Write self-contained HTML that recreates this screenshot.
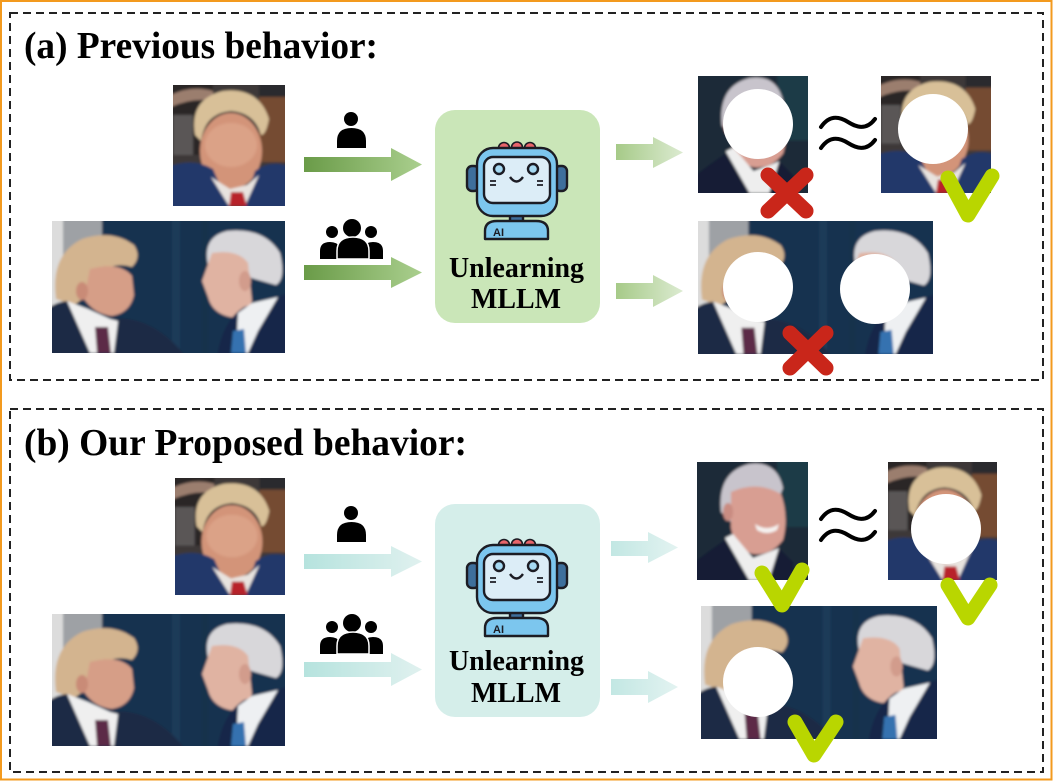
<!DOCTYPE html>
<html>
<head>
<meta charset="utf-8">
<style>
html,body{margin:0;padding:0;background:#fff;}
svg{display:block;}
</style>
</head>
<body>
<svg width="1053" height="781" viewBox="0 0 1053 781" xmlns="http://www.w3.org/2000/svg">
<defs>
  <filter id="blur" x="-10%" y="-10%" width="120%" height="120%"><feGaussianBlur stdDeviation="1.3"/></filter>
  <linearGradient id="gA1" gradientUnits="objectBoundingBox" x1="0" y1="0" x2="1" y2="0">
    <stop offset="0" stop-color="#6a9b48"/><stop offset="1" stop-color="#aacf8e"/>
  </linearGradient>
  <linearGradient id="gA2" gradientUnits="objectBoundingBox" x1="0" y1="0" x2="1" y2="0">
    <stop offset="0" stop-color="#a6ca88"/><stop offset="1" stop-color="#dcebd1"/>
  </linearGradient>
  <linearGradient id="gB1" gradientUnits="objectBoundingBox" x1="0" y1="0" x2="1" y2="0">
    <stop offset="0" stop-color="#b6e3de"/><stop offset="1" stop-color="#e0f1ef"/>
  </linearGradient>
  <linearGradient id="gB2" gradientUnits="objectBoundingBox" x1="0" y1="0" x2="1" y2="0">
    <stop offset="0" stop-color="#c2e7e3"/><stop offset="1" stop-color="#e3f3f1"/>
  </linearGradient>

  <!-- Trump single portrait -->
  <symbol id="trump" viewBox="0 0 112 121" preserveAspectRatio="none">
    <g filter="url(#blur)">
      <rect x="-5" y="-5" width="122" height="131" fill="#3d3838"/>
      <rect x="-5" y="-5" width="45" height="75" fill="#2a2728"/>
      <path d="M-2 10 Q18 0 40 6 L40 16 Q20 12 -2 22Z" fill="#9b7e6e"/>
      <rect x="86" y="12" width="30" height="65" fill="#744c31"/>
      <rect x="86" y="-5" width="30" height="17" fill="#2b2a2e"/>
      <rect x="0" y="30" width="20" height="40" fill="#5a5656"/>
      <ellipse cx="58" cy="66" rx="31" ry="38" fill="#d39479"/>
      <ellipse cx="58" cy="60" rx="26" ry="22" fill="#dba287"/>
      <path d="M22 50 Q16 14 50 6 Q86 2 96 34 Q93 50 88 50 Q82 28 58 26 Q32 28 28 56 Z" fill="#d8c098"/>
      <path d="M-5 126 L-5 82 Q20 72 40 84 L58 126 Z" fill="#22396b"/>
      <path d="M117 126 L117 82 Q98 74 82 86 L70 126 Z" fill="#22396b"/>
      <path d="M38 92 L56 121 L72 121 L86 90 L74 100 L57 104 Z" fill="#e8e3df"/>
      <path d="M58 107 L70 107 L74 121 L56 121 Z" fill="#b8242a"/>
    </g>
  </symbol>

  <!-- Trump & Biden pair -->
  <symbol id="group" viewBox="0 0 233 132" preserveAspectRatio="none">
    <g filter="url(#blur)">
      <rect x="-5" y="-5" width="243" height="142" fill="#17334f"/>
      <rect x="120" y="-5" width="8" height="142" fill="#1c3a58"/>
      <rect x="150" y="-5" width="6" height="142" fill="#14304b"/>
      <rect x="-5" y="-5" width="16" height="142" fill="#dcdcdc"/>
      <rect x="11" y="-5" width="39" height="80" fill="#9ea1a5"/>
      <!-- Trump -->
      <path d="M4 78 Q-2 34 30 18 Q60 8 82 24 Q90 36 80 46 Q60 40 46 55 Q36 76 22 84 Z" fill="#d3b48f"/>
      <path d="M38 48 Q68 40 80 55 L82 74 Q78 92 60 95 Q42 93 32 78 Z" fill="#d69e87"/>
      <ellipse cx="30" cy="70" rx="6" ry="9" fill="#c98b77"/>
      <path d="M-5 137 L-5 88 Q6 80 16 80 L40 137 Z" fill="#1b2b44"/>
      <path d="M56 98 Q100 92 135 137 L60 137 Z" fill="#1e2c45"/>
      <path d="M15 80 L36 88 L58 98 L66 100 L62 132 L38 132 Z" fill="#efefef"/>
      <path d="M43 106 L56 106 L59 132 L45 132 Z" fill="#5b2c47"/>
      <!-- Biden -->
      <path d="M156 44 Q150 16 175 10 Q212 6 228 32 Q234 58 224 64 L196 56 Z" fill="#d8d7da"/>
      <path d="M160 32 Q186 28 196 42 L200 80 Q194 98 178 96 Q160 92 156 76 L150 60 Z" fill="#e0b3a2"/>
      <ellipse cx="193" cy="60" rx="6" ry="10" fill="#d29c8c"/>
      <path d="M165 137 Q170 100 192 86 L238 72 L238 137 Z" fill="#142848"/>
      <path d="M186 92 L200 82 L226 76 L206 110 L196 132 L184 132 Z" fill="#eef0f2"/>
      <path d="M181 110 L192 108 L194 132 L179 132 Z" fill="#3472b0"/>
    </g>
  </symbol>

  <!-- Biden single portrait -->
  <symbol id="biden" viewBox="0 0 111 118" preserveAspectRatio="none">
    <g filter="url(#blur)">
      <rect x="-5" y="-5" width="121" height="128" fill="#1a2b38"/>
      <rect x="80" y="-5" width="36" height="70" fill="#1f3a46"/>
      <path d="M24 50 Q20 10 52 2 Q80 -2 86 26 L82 36 Q60 20 36 34 L34 60 Z" fill="#c8c4cc"/>
      <path d="M34 30 Q60 18 84 32 Q92 55 86 78 Q74 94 56 92 Q38 88 34 66 Z" fill="#d89e92"/>
      <ellipse cx="31" cy="50" rx="5" ry="9" fill="#c98c82"/>
      <path d="M58 62 Q70 70 82 62 L80 68 Q70 74 60 68 Z" fill="#f5f2f0"/>
      <path d="M-5 123 L-5 102 Q10 90 28 78 L52 118 Z" fill="#161e36"/>
      <path d="M70 118 L82 86 L96 100 L98 123 Z" fill="#161e36"/>
      <path d="M28 76 L36 72 L56 96 L72 90 L82 86 L72 118 L52 118 Z" fill="#eeeeee"/>
    </g>
  </symbol>

  <!-- Robot icon -->
  <g id="robot" stroke="#1c1c24" stroke-width="2.4" stroke-linejoin="round">
    <circle cx="44" cy="10" r="5.5" fill="#e8646a" stroke-width="1.6"/>
    <circle cx="57" cy="9.5" r="5.5" fill="#e8646a" stroke-width="1.6"/>
    <circle cx="70" cy="10" r="5.5" fill="#e8646a" stroke-width="1.6"/>
    <rect x="7" y="28" width="12" height="25" rx="5" fill="#3e6f9c"/>
    <rect x="95" y="28" width="12" height="25" rx="5" fill="#3e6f9c"/>
    <rect x="50" y="75" width="13" height="11" rx="3" fill="#3e6f9c"/>
    <path d="M25 101 L25 93 Q25 83 37 83 L76 83 Q88 83 88 93 L88 101 Z" fill="#7cc6ee"/>
    <rect x="17" y="10" width="80" height="68" rx="16" fill="#7cc6ee"/>
    <rect x="24" y="19" width="66" height="46" rx="9" fill="#dcedf7"/>
    <circle cx="39" cy="31" r="5" fill="#a6d9f2"/>
    <circle cx="73" cy="31" r="5" fill="#a6d9f2"/>
    <path d="M50 39 Q56.5 48 63 39" fill="none"/>
    <path d="M30 43 H36 M30 47 H36 M77 43 H83 M77 47 H83" fill="none" stroke-width="1.8"/>
    <text x="33" y="98" font-family="Liberation Sans, sans-serif" font-weight="bold" font-size="11" fill="#1c1c24" stroke="none">AI</text>
  </g>

  <!-- Person icons -->
  <g id="person" fill="#000">
    <circle cx="351" cy="119" r="7"/>
    <path d="M337 148 L337 141 Q337 128 351.5 128 Q366 128 366 141 L366 148 Z"/>
  </g>
  <g id="people" fill="#000">
    <circle cx="332" cy="232" r="6"/>
    <circle cx="371" cy="232" r="6"/>
    <path d="M320 259 L320 251 Q320 242 330 242 Q337 242 340 247 L340 259 Z"/>
    <path d="M383 259 L383 251 Q383 242 373 242 Q366 242 363 247 L363 259 Z"/>
    <circle cx="352" cy="228" r="9"/>
    <path d="M337 259 L337 251 Q337 237 353 237 Q369 237 369 251 L369 259 Z" stroke="#fff" stroke-width="1.5"/>
  </g>
</defs>

<!-- orange outer frame -->
<rect x="1" y="1" width="1050.5" height="778.5" fill="none" stroke="#f39a1e" stroke-width="2"/>

<!-- dashed panels -->
<rect x="10" y="13" width="1033" height="367" fill="none" stroke="#222" stroke-width="2" stroke-dasharray="8 5"/>
<rect x="10" y="409" width="1033" height="363" fill="none" stroke="#222" stroke-width="2" stroke-dasharray="8 5"/>

<!-- titles -->
<text x="24" y="58" font-family="Liberation Serif, serif" font-weight="bold" font-size="38" textLength="354" lengthAdjust="spacingAndGlyphs" fill="#000">(a) Previous behavior:</text>
<text x="24" y="455" font-family="Liberation Serif, serif" font-weight="bold" font-size="38" textLength="443" lengthAdjust="spacingAndGlyphs" fill="#000">(b) Our Proposed behavior:</text>

<!-- ================= PANEL A ================= -->
<use href="#trump" x="173" y="85" width="112" height="121"/>
<use href="#group" x="52" y="221" width="233" height="132"/>

<use href="#person"/>
<use href="#people"/>

<path d="M304 157 L391 157 L391 148 L422 164.5 L391 181 L391 172 L304 172 Z" fill="url(#gA1)"/>
<path d="M304 265 L391 265 L391 257 L422 272.5 L391 288 L391 280 L304 280 Z" fill="url(#gA1)"/>

<rect x="435" y="110" width="165" height="213" rx="20" fill="#cae6b8"/>
<use href="#robot" x="460" y="138"/>
<text x="449" y="277" font-family="Liberation Serif, serif" font-weight="bold" font-size="29" textLength="135" lengthAdjust="spacingAndGlyphs" fill="#000">Unlearning</text>
<text x="471" y="308" font-family="Liberation Serif, serif" font-weight="bold" font-size="29" textLength="90" lengthAdjust="spacingAndGlyphs" fill="#000">MLLM</text>

<path d="M616 144 L653 144 L653 137 L683 152.5 L653 168 L653 160 L616 160 Z" fill="url(#gA2)"/>
<path d="M616 283 L653 283 L653 275 L683 291 L653 307 L653 299 L616 299 Z" fill="url(#gA2)"/>

<use href="#biden" x="698" y="76" width="110" height="117"/>
<circle cx="758" cy="124" r="35" fill="#fff"/>
<use href="#trump" x="881" y="76" width="110" height="117"/>
<circle cx="933" cy="129" r="35" fill="#fff"/>
<path d="M821 127 C830 114 840 117 848 122 S866 131 875 119" fill="none" stroke="#000" stroke-width="4" stroke-linecap="round"/>
<path d="M821 148 C830 135 840 138 848 143 S866 152 875 140" fill="none" stroke="#000" stroke-width="4" stroke-linecap="round"/>

<use href="#group" x="698" y="221" width="235" height="133"/>
<circle cx="758" cy="287" r="35" fill="#fff"/>
<circle cx="875" cy="289" r="35" fill="#fff"/>

<g stroke="#c9261a" stroke-width="15" stroke-linecap="round" fill="none">
  <path d="M768 175 L806 211 M806 175 L768 211"/>
  <path d="M790 333 L826 368 M826 333 L790 368"/>
</g>
<path d="M948 178 L968 215 L992 176" fill="none" stroke="#b9d600" stroke-width="15" stroke-linecap="round" stroke-linejoin="round"/>

<!-- ================= PANEL B ================= -->
<use href="#trump" x="175" y="478" width="110" height="117"/>
<use href="#group" x="52" y="614" width="233" height="132"/>

<use href="#person" y="394"/>
<use href="#people" y="395"/>

<path d="M304 554 L391 554 L391 546 L422 561.5 L391 577 L391 569 L304 569 Z" fill="url(#gB1)"/>
<path d="M304 662 L391 662 L391 653 L422 669.5 L391 686 L391 677 L304 677 Z" fill="url(#gB1)"/>

<rect x="435" y="504" width="165" height="213" rx="20" fill="#d5eeea"/>
<use href="#robot" x="460" y="535"/>
<text x="449" y="670" font-family="Liberation Serif, serif" font-weight="bold" font-size="29" textLength="135" lengthAdjust="spacingAndGlyphs" fill="#000">Unlearning</text>
<text x="471" y="702" font-family="Liberation Serif, serif" font-weight="bold" font-size="29" textLength="90" lengthAdjust="spacingAndGlyphs" fill="#000">MLLM</text>

<path d="M611 541 L648 541 L648 532 L678 547.5 L648 563 L648 556 L611 556 Z" fill="url(#gB2)"/>
<path d="M611 679 L648 679 L648 671 L678 687 L648 703 L648 695 L611 695 Z" fill="url(#gB2)"/>

<use href="#biden" x="697" y="462" width="111" height="118"/>
<use href="#trump" x="888" y="462" width="109" height="118"/>
<circle cx="946" cy="529" r="35" fill="#fff"/>
<path d="M821 519 C830 506 840 509 848 514 S866 523 875 511" fill="none" stroke="#000" stroke-width="4" stroke-linecap="round"/>
<path d="M821 540 C830 527 840 530 848 535 S866 544 875 532" fill="none" stroke="#000" stroke-width="4" stroke-linecap="round"/>

<use href="#group" x="701" y="606" width="236" height="133"/>
<circle cx="758" cy="682" r="35" fill="#fff"/>

<g stroke="#b9d600" stroke-width="15" stroke-linecap="round" stroke-linejoin="round" fill="none">
  <path d="M762 573 L782 605 L802 570"/>
  <path d="M948 585 L968 618 L990 585"/>
  <path d="M795 722 L814 755 L836 722"/>
</g>
</svg>
</body>
</html>
